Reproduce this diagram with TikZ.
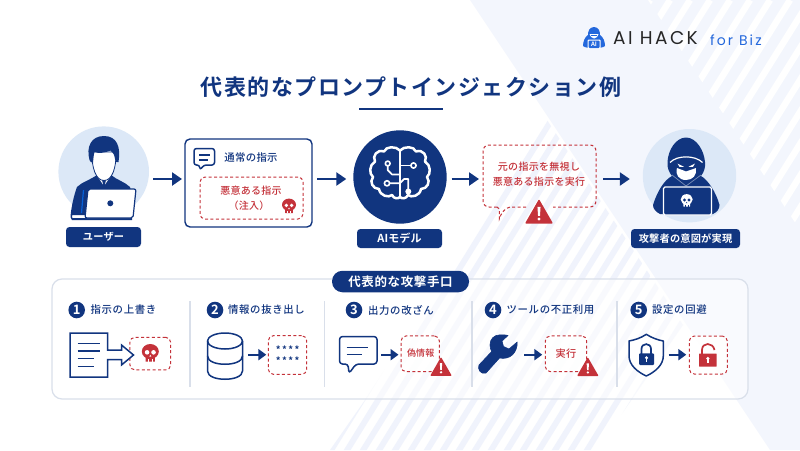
\documentclass[tikz,border=0pt]{standalone}
\usepackage{fontspec}
\setmainfont{Noto Sans CJK JP Medium}[BoldFont={Noto Sans CJK JP Bold}]
\newfontfamily\logofont{Poppins}
\usetikzlibrary{arrows.meta}
\definecolor{navy}{HTML}{11357F}
\definecolor{alert}{HTML}{C4323A}
\definecolor{pale}{HTML}{DCE8F7}
\definecolor{wash}{HTML}{F3F6FD}
\definecolor{stripe}{HTML}{F0F3FC}
\definecolor{rulegrey}{HTML}{D9DFEA}
\definecolor{logoblue}{HTML}{2468DC}
\newcommand{\fs}[2]{\fontsize{#1}{#1}\selectfont\addfontfeature{LetterSpace=#2}}
\tikzset{
  flow/.style={draw=navy,line width=2.4pt,-{Triangle[length=10pt,width=13pt]}},
  flowsmall/.style={draw=navy,line width=2pt,-{Triangle[length=8pt,width=11pt]}},
  tag/.style={fill=navy,text=white,rounded corners=3.5pt,inner sep=0pt,outer sep=0pt,font=\bfseries\fs{10.2}{2}},
  dashbox/.style={draw=alert,line width=1pt,dash pattern=on 3pt off 2.4pt,rounded corners=5pt,fill=white,fill opacity=.85,text opacity=1,inner sep=0pt,outer sep=0pt},
  redtext/.style={text=alert,font=\fs{10}{3},inner sep=0pt},
  steptext/.style={text=navy,anchor=west,font=\fs{10.4}{6},inner sep=0pt},
  numdisc/.style={circle,fill=navy,text=white,minimum size=16.6pt,inner sep=0pt,font=\bfseries\fontsize{13}{13}\selectfont},
  icon/.style={draw=navy,line width=1.5pt,line join=round,line cap=round},
  sep/.style={draw=rulegrey,line width=1.1pt},
  disc/.style={circle,inner sep=0pt,outer sep=0pt},
}
% skull: centre x y, scale, colour, hole colour
\newcommand{\skullicon}[5]{\begin{scope}[shift={(#1,#2)},scale=#3]
  \fill[#4] (0,-.18) ellipse (1 and .88);
  \fill[#4,rounded corners=.1] (-.55,.2) rectangle (.55,1);
  \fill[#5] (-.38,-.08) circle (.27) (.38,-.08) circle (.27);
  \fill[#5] (0,.22) -- (-.12,.44) -- (.12,.44) -- cycle;
  \draw[#5,line width=.5pt] (-.2,.72) -- (-.2,1) (.2,.72) -- (.2,1);
\end{scope}}
% warning: centre x y, half width
\newcommand{\warnicon}[3]{\begin{scope}[shift={(#1,#2)},scale=#3]
  \fill[alert,draw=alert,line join=round,line width=1.4pt] (0,-.82) -- (.92,.78) -- (-.92,.78) -- cycle;
  \fill[white] (-.11,-.36) -- (.11,-.36) -- (.07,.28) -- (-.07,.28) -- cycle;
  \fill[white] (0,.5) circle (.12);
\end{scope}}
\begin{document}
\begin{tikzpicture}[x=1pt,y=-1pt]
\useasboundingbox (0,0) rectangle (800,450);
\fill[white] (0,0) rectangle (800,450);
% background
\fill[wash] (470,0) -- (800,0) -- (800,450) -- (770,450) -- cycle;
\begin{scope}
  \clip (648,0) -- (800,0) -- (800,230) -- cycle;
  \foreach \k in {0,...,24}{ \draw[white,line width=6.5pt] ({480+20*\k},240) -- ({480+20*\k+150},0); }
\end{scope}
\begin{scope}
  \clip (547,120) -- (365,400) -- (330,450) -- (597,450) -- (683,325) -- cycle;
  \foreach \k in {0,...,30}{ \draw[stripe,line width=5.8pt] ({325+16*\k},460) -- ({325+16*\k+260},40); }
\end{scope}
% logo
\begin{scope}[shift={(594,38)}]
  \fill[logoblue] (0,-11) .. controls (5,-11) and (6,-6) .. (6,-3) .. controls (9,-1) and (11,3) .. (11,8) .. controls (8,11) and (-8,11) .. (-11,8) .. controls (-11,3) and (-9,-1) .. (-6,-3) .. controls (-6,-6) and (-5,-11) .. (0,-11) -- cycle;
  \fill[white] (-4.5,-4) -- (4.5,-4) -- (3,-1) -- (0,.5) -- (-3,-1) -- cycle;
  \fill[logoblue] (-3,-2.8) rectangle (3,-1.6);
  \fill[white,rounded corners=1pt] (-6.5,1.5) rectangle (6.5,11);
  \fill[logoblue,rounded corners=1pt] (-5.5,2.5) rectangle (5.5,10);
  \node[text=white,inner sep=0pt,font=\bfseries\fontsize{6}{6}\selectfont] (logomark) at (0,6.2) {AI};
\end{scope}
\node[anchor=west,inner sep=0pt,text=black!85,font=\logofont\fontsize{18.5}{18.5}\selectfont\addfontfeature{LetterSpace=13}] (logoname) at (613,38) {AI HACK};
\node[anchor=west,inner sep=0pt,text=logoblue,font=\logofont\fontsize{14}{14}\selectfont\addfontfeature{LetterSpace=15}] (logosub) at (710,40) {for Biz};
% title
\node[text=navy,inner sep=0pt,font=\bfseries\fs{22}{6.7}] (title) at (411,87) {代表的なプロンプトインジェクション例};
\draw[navy,line width=2pt] (359,109) -- (443,109);
% user
\node[disc,fill=pale,minimum size=90.6pt] (user) at (103.7,171.7) {};
\fill[navy] (97,175) .. controls (90,180) and (82,182) .. (77,187) .. controls (74,195) and (71,208) .. (70.5,217) -- (72,220) -- (132,220) -- (132,195) -- (130,187) .. controls (125,182) and (117,180) .. (111,175) -- cycle;
\fill[white] (97,175) -- (100,180) -- (104,186) -- (108,180) -- (111,175) -- (111,172) -- (97,172) -- cycle;
\fill[navy] (102,180) -- (106,180) -- (105,184) -- (107,190) -- (101,190) -- (103,184) -- cycle;
\fill[white,draw=navy,line width=.8pt] (92,152) .. controls (91.5,168) and (96,180.5) .. (104,180.5) .. controls (112,180.5) and (116.5,168) .. (116,152) -- cycle;
\fill[navy] (89.5,160) .. controls (86,147) and (91,136) .. (104,136) .. controls (117,136) and (121,147) .. (118.5,162) .. controls (117,163) and (115.5,162) .. (115,159) .. controls (114.5,155) and (113,152) .. (110.5,150.5) .. controls (105,153) and (98,153.5) .. (94.5,152) .. controls (93.5,155) and (93.5,159) .. (93,162.5) .. controls (91.5,163) and (90,162) .. (89.5,160) -- cycle;
\draw[line width=1.2pt,draw=blue!55!cyan!70!navy] (83.5,190) -- (81.5,213);
\fill[white,draw=navy,line width=1pt,rounded corners=.8pt] (71.5,214.5) rectangle (86,218.5);
\fill[white,draw=navy,line width=1.2pt,line join=round,rounded corners=2pt] (88,189) -- (136,189) -- (133,218) -- (85,218) -- cycle;
\fill[navy] (110.3,203.3) circle (3);
\node[tag,minimum width=75pt,minimum height=20pt] (userlabel) at (103.5,237) {ユーザー};
% prompt box
\node[draw=navy,line width=1.4pt,fill=white,rounded corners=5pt,minimum width=127pt,minimum height=88pt,inner sep=0pt,outer sep=0pt] (promptbox) at (248.5,183) {};
\draw[icon,fill=white,rounded corners=2.5pt] (194,148.5) -- (214.5,148.5) -- (214.5,165) -- (204,165) -- (200,170) -- (199.5,165) -- (194,165) -- cycle;
\draw[navy,line width=1.2pt] (199,155) -- (210,155) (199,160) -- (208,160);
\node[text=navy,inner sep=0pt,font=\fs{10.4}{3}] (normal) at (251,157.5) {通常の指示};
\node[dashbox,minimum width=103pt,minimum height=42pt] (inject) at (251.5,198) {};
\node[redtext] (injecta) at (251,191) {悪意ある指示};
\node[redtext] (injectb) at (249,206) {（注入）};
\skullicon{289}{206}{7}{alert}{white}
% ai model
\node[disc,fill=navy,minimum size=93.4pt] (model) at (400,177) {};
\begin{scope}[white,line width=2.5pt,line cap=round,line join=round]
  \draw (400,150) -- (400,197);
  \draw (400,150.5) .. controls (404,146) and (414,146) .. (416,151.5) .. controls (423,149) and (428,156) .. (425,161.5) .. controls (431,165) and (431,174) .. (427,177) .. controls (431,182) and (427,189) .. (421,189) .. controls (420,196) and (411,198) .. (408,195) .. controls (406,199) and (402,199) .. (400,197);
  \draw (400,150.5) .. controls (396,146) and (386,146) .. (384,151.5) .. controls (377,149) and (372,156) .. (375,161.5) .. controls (369,165) and (369,174) .. (373,177) .. controls (369,182) and (373,189) .. (379,189) .. controls (380,196) and (389,198) .. (392,195) .. controls (394,199) and (398,199) .. (400,197);
  \begin{scope}[line width=1.7pt]
  \draw (387.7,165) -- (387.7,170) -- (392,174.5) -- (400,174.5);
  \draw (411,165.5) -- (400,165.5);
  \draw (390,183.3) -- (400,183.3) -- (404,179) -- (408.3,179) -- (408.3,189);
  \end{scope}
  \draw[line width=1.6pt,fill=navy] (387.7,163.5) circle (2.4) (413.5,165.5) circle (2.6) (387,183.3) circle (2.6);
  \fill (408.3,191.5) circle (3);
\end{scope}
\node[tag,minimum width=85pt,minimum height=19pt,font=\bfseries\fs{11}{1}] (modellabel) at (399.5,238.5) {AIモデル};
% bubble
\node[minimum width=113pt,minimum height=62pt,inner sep=0pt,outer sep=0pt] (bubble) at (539.5,176) {};
\draw[alert,line width=1pt,dash pattern=on 3pt off 2.4pt,rounded corners=6pt] (497,207) -- (483,207) -- (483,145) -- (596,145) -- (596,207) -- (553,207);
\draw[alert,line width=1pt,dash pattern=on 3pt off 2.4pt] (526,207) -- (510,207) .. controls (505,208) and (501,213) .. (499.3,219) -- (499.3,209) -- (497,207);
\node[redtext] (overridea) at (539,167) {元の指示を無視し};
\node[redtext] (overrideb) at (539,182) {悪意ある指示を実行};
\warnicon{539}{212}{14}
% hacker
\node[disc,fill=pale,minimum size=93.4pt] (hacker) at (689.5,175.7) {};
\fill[navy] (686,137.5) .. controls (696,137.5) and (704,150) .. (705,162) .. controls (705.5,168) and (704,172) .. (701,176) .. controls (708,180) and (716,192) .. (719.5,205) .. controls (719.5,209) and (717,212) .. (713,214) -- (660,214) .. controls (656,212) and (653,209) .. (653,205) .. controls (657,192) and (664,180) .. (672,176) .. controls (669,172) and (667,168) .. (667.5,162) .. controls (668,150) and (676,137.5) .. (686,137.5) -- cycle;
\draw[white,line width=1.2pt] (670,162.5) .. controls (677,155) and (695,155) .. (702.5,162.5);
\fill[white] (677,168) .. controls (682,170) and (684,170.5) .. (686,171.5) .. controls (688,170.5) and (691,170) .. (696,168) .. controls (697,175) and (693,180) .. (686,180) .. controls (679,180) and (675,175) .. (677,168) -- cycle;
\fill[white] (677.5,163.5) -- (684,166.8) -- (679.5,166.8) -- cycle (695,163.5) -- (688.5,166.8) -- (693,166.8) -- cycle;
\draw[navy!55!white,line width=.7pt] (672,175) -- (686,186) -- (701,175);
\fill[navy,draw=white,line width=1.1pt,rounded corners=1.5pt] (663.5,187) rectangle (711.5,215);
\skullicon{686.7}{200.5}{6}{white}{navy}
\node[tag,minimum width=109pt,minimum height=19pt] (hackerlabel) at (685.5,238.5) {攻撃者の意図が実現};
% main arrows
\draw[flow] (user.east |- 0,179) ++(4,0) -- ([xshift=-3pt]promptbox.west |- 0,179);
\draw[flow] ([xshift=5pt]promptbox.east |- 0,179) -- ([xshift=-7pt]model.west |- 0,179);
\draw[flow] ([xshift=5pt]model.east |- 0,179) -- ([xshift=-4pt]bubble.west |- 0,179);
\draw[flow] ([xshift=7pt]bubble.east |- 0,179) -- ([xshift=-13pt]hacker.west |- 0,179);
% panel
\node[draw=rulegrey,line width=1.2pt,fill=white,fill opacity=.55,rounded corners=10pt,minimum width=696pt,minimum height=120pt,inner sep=0pt,outer sep=0pt] (panel) at (400,339) {};
\node[fill=navy,text=white,rounded corners=10.5pt,minimum width=137pt,minimum height=21.5pt,inner sep=0pt,font=\bfseries\fs{12.5}{5}] (panelhead) at (400.5,281.5) {代表的な攻撃手口};
\foreach \sx in {190,324.7,472,617}{ \draw[sep] (\sx,301) -- (\sx,387); }
% step headings
\node[numdisc] (n1) at (76.7,310) {1};
\node[steptext] (t1) at (90.5,310) {指示の上書き};
\node[numdisc] (n2) at (215,310) {2};
\node[steptext] (t2) at (228,310) {情報の抜き出し};
\node[numdisc] (n3) at (354,310) {3};
\node[steptext] (t3) at (368,310) {出力の改ざん};
\node[numdisc] (n4) at (493,310) {4};
\node[steptext] (t4) at (506.5,310) {ツールの不正利用};
\node[numdisc] (n5) at (638.7,310) {5};
\node[steptext] (t5) at (652,310) {設定の回避};
% step 1
\node[dashbox,minimum width=40.7pt,minimum height=32.7pt] (d1) at (150.3,353.6) {};
\skullicon{150.3}{353}{8.5}{alert}{white}
\draw[icon,fill=white,line join=miter] (70,333) -- (107.7,333) -- (107.7,350) -- (121.5,350) -- (121.5,345) -- (133.5,355) -- (121.5,365) -- (121.5,359.5) -- (107.7,359.5) -- (107.7,377) -- (70,377) -- cycle;
\draw[navy,line width=1.5pt] (77.7,343.3) -- (100,343.3) (77.7,351) -- (100,351) (77.7,358.7) -- (94.3,358.7) (77.7,366.3) -- (94.3,366.3);
% step 2
\begin{scope}[icon]
  \draw (207.5,341) -- (207.5,371) .. controls (207.5,382) and (242.5,382) .. (242.5,371) -- (242.5,341);
  \draw (225,341) ellipse (17.5 and 8);
  \draw (207.5,356) .. controls (207.5,367) and (242.5,367) .. (242.5,356);
\end{scope}
\node[dashbox,minimum width=38.4pt,minimum height=38.6pt] (d2) at (287.5,355) {};
\node[inner sep=0pt,text=navy,font=\bfseries\fs{9.5}{15}] (s1) at (287.7,350) {****};
\node[inner sep=0pt,text=navy,font=\bfseries\fs{9.5}{15}] (s2) at (287.7,361) {****};
\coordinate (db) at (244,354.7);
\draw[flowsmall] (db) ++(4,0) -- ([xshift=-2pt]d2.west |- db);
% step 3
\draw[icon,rounded corners=3pt] (339.5,336.5) -- (377,336.5) -- (377,364) -- (356,364) -- (349,373.5) -- (348,364) -- (339.5,364) -- cycle;
\draw[navy,line width=1.3pt] (346.7,347.7) -- (368.3,347.7) (346.7,354.3) -- (361.5,354.3);
\node[dashbox,minimum width=38.3pt,minimum height=35.7pt] (d3) at (420.2,353.8) {};
\node[redtext,font=\fs{9}{1}] (fake) at (420.7,352.7) {偽情報};
\warnicon{441}{367}{10.5}
\coordinate (chat) at (378,354.7);
\draw[flowsmall] (chat) ++(3,0) -- ([xshift=-2.5pt]d3.west |- chat);
% step 4
\fill[navy,line join=round,draw=navy,line width=.6pt] (500,334.8) .. controls (494,335) and (490,339) .. (490,345) .. controls (490,348) and (491,350) .. (491.7,351.5) -- (479,365) .. controls (477,369) and (481,375) .. (486,373) -- (499.5,358) .. controls (510,360) and (517.5,353) .. (517.2,342) -- (509,349) -- (503.5,346.5) -- (502,341) -- (508,335.5) .. controls (505,334.8) and (503,334.6) .. (500,334.8) -- cycle;
\node[dashbox,minimum width=41.4pt,minimum height=35.7pt] (d4) at (566,353.8) {};
\node[redtext,font=\fs{10.2}{3}] (run) at (566,353.3) {実行};
\warnicon{587.8}{367.2}{10.5}
\coordinate (tool) at (518,354.7);
\draw[flowsmall] (tool) ++(6,0) -- ([xshift=-3pt]d4.west |- tool);
% step 5
\draw[icon,fill=white] (646.3,334.3) .. controls (652,338) and (658,340) .. (663.3,341) -- (663.3,356) .. controls (663.3,365) and (655,372) .. (646.3,376) .. controls (637.5,372) and (629,365) .. (629,356) -- (629,341) .. controls (634.5,340) and (641,338) .. (646.3,334.3) -- cycle;
\draw[navy,line width=1.7pt] (641.5,354) -- (641.5,349) .. controls (641.5,342.5) and (651,342.5) .. (651,349) -- (651,354);
\fill[navy,rounded corners=1pt] (639,353.3) rectangle (654,365);
\fill[white] (646.5,357.8) circle (1.7);
\fill[white] (645.7,358) rectangle (647.3,362);
\node[dashbox,minimum width=38pt,minimum height=38pt] (d5) at (708.3,355) {};
\draw[alert,line width=1.7pt] (702,354) -- (702,350) .. controls (702,342) and (713,342) .. (714.5,350);
\fill[alert,rounded corners=.6pt] (699,353.5) rectangle (716.7,366.7);
\fill[white] (707.8,358.5) circle (1.8);
\fill[white] (707,358.5) rectangle (708.6,363);
\coordinate (shield) at (664.5,354.7);
\draw[flowsmall] (shield) ++(4,0) -- ([xshift=-3pt]d5.west |- shield);
\end{tikzpicture}
\end{document}
